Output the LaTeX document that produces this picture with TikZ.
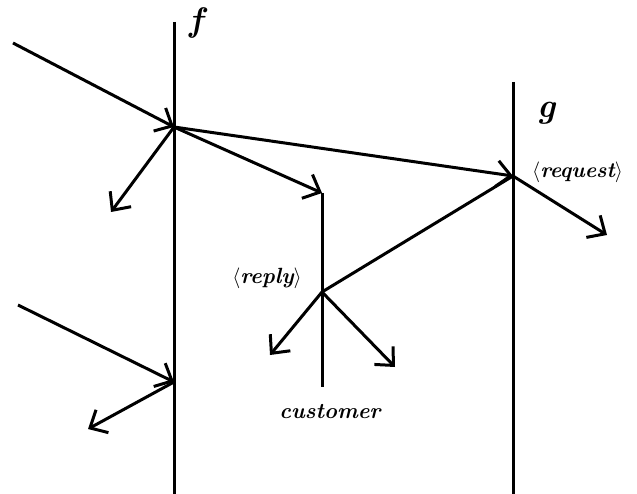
\documentclass[tikz,border=0pt]{standalone}
\usetikzlibrary{arrows.meta}
\begin{document}
\begin{tikzpicture}[x=1pt,y=-1pt,
  life/.style={line width=3pt},
  msg/.style={line width=3pt,-{Straight Barb[length=14pt,width=26pt,line width=3pt]}},
  plain/.style={line width=3pt},
  lbl/.style={font=\fontsize{22}{24}\selectfont\bfseries\itshape, inner sep=0pt},
  big/.style={font=\fontsize{34}{36}\selectfont\bfseries\itshape, inner sep=0pt}]
\useasboundingbox (0,0) rectangle (637,494);
% lifelines
\coordinate (ftop) at (174,22);
\coordinate (fbot) at (174,494);
\coordinate (gtop) at (513,82);
\coordinate (gbot) at (513,494);
\coordinate (ctop) at (322,193);
\coordinate (cbot) at (322,387);
\draw[life] (ftop) -- (fbot);
\draw[life] (gtop) -- (gbot);
\draw[life] (ctop) -- (cbot);
% events
\coordinate (A) at (174,127);
\coordinate (B) at (174,382);
\coordinate (G) at (513,176);
\coordinate (R) at (322,292);
% free ends
\coordinate (in1) at (13,43);
\coordinate (in2) at (18,305);
\coordinate (a1) at (111,212);
\coordinate (g1) at (607,235);
\coordinate (r1) at (270,355);
\coordinate (r2) at (395,367);
\coordinate (b1) at (88,429);
% messages
\draw[msg] (in1) -- (A);
\draw[msg] (A) -- (a1);
\draw[msg] (A) -- (ctop);
\draw[msg] (A) -- (G);
\draw[msg] (G) -- (g1);
\draw[plain] (R) -- (G);
\draw[msg] (R) -- (r1);
\draw[msg] (R) -- (r2);
\draw[msg] (in2) -- (B);
\draw[msg] (B) -- (b1);
% labels
\node[big] (fl) at (196,23) {f};
\node[big] (gl) at (547,113) {g};
\node[lbl, font=\fontsize{21.5}{23}\selectfont\bfseries\itshape, anchor=west] (req) at (532,172) {$\langle$request$\rangle$};
\node[lbl] (rep) at (267,278) {$\langle$reply$\rangle$};
\node[lbl] (cus) at (330,412) {customer};
\end{tikzpicture}
\end{document}
